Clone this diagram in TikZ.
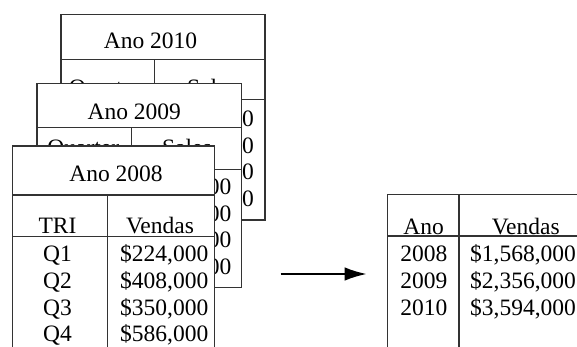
\documentclass[tikz,border=0pt]{standalone}
\usepackage{fontspec}
\setmainfont{Liberation Serif}
\usetikzlibrary{arrows.meta}
\newcommand\cellfont{\fontsize{23.5}{26}\selectfont}
\definecolor{rulec}{HTML}{333333}
\tikzset{
  tbl/.style={draw=rulec, line width=1.3pt, fill=white},
  rule/.style={draw=rulec, line width=1.3pt},
  txt/.style={anchor=base, inner sep=0pt, font=\cellfont},
  txtr/.style={anchor=base east, inner sep=0pt, font=\cellfont},
  txtl/.style={anchor=base west, inner sep=0pt, font=\cellfont},
  flow/.style={draw=black, line width=2pt, -{Latex[length=22pt,width=13.5pt]}}
}
\begin{document}
\begin{tikzpicture}[x=1pt,y=-1pt]
\useasboundingbox (0,0) rectangle (577,347);
\clip (0,0) rectangle (577,347);
\fill[white] (0,0) rectangle (577,347);

% quarterly sheet, 2010 (back)
\filldraw[tbl] (61,14.5) rectangle (265,220);
\draw[rule] (61,59.5) -- (265,59.5);
\draw[rule] (154.3,59.5) -- (154.3,220);
\draw[rule] (61,99.3) -- (265,99.3);
\node[txt] (y10) at (150.5,48.3) {Ano 2010};
\node[txt] (y10q) at (104.7,96) {Quarter};
\node[txt] (y10s) at (212,96) {Sales};
\node[txt] (y10q1) at (107.7,127) {Q1};
\node[txt] (y10q2) at (107.7,153.5) {Q2};
\node[txt] (y10q3) at (107.7,180) {Q3};
\node[txt] (y10q4) at (107.7,206.5) {Q4};
\node[txtr] (y10v1) at (254,127) {\$820,000};
\node[txtr] (y10v2) at (254,153.5) {\$910,000};
\node[txtr] (y10v3) at (254,180) {\$872,000};
\node[txtr] (y10v4) at (254,206.5) {\$992,000};

% quarterly sheet, 2009 (middle)
\filldraw[tbl] (37,83.3) rectangle (241.3,287.3);
\draw[rule] (37,127.7) -- (241.3,127.7);
\draw[rule] (131.3,127.7) -- (131.3,287.3);
\draw[rule] (37,169.3) -- (241.3,169.3);
\node[txt] (y09) at (134.3,119.3) {Ano 2009};
\node[txt] (y09q) at (83.3,155.5) {Quarter};
\node[txt] (y09s) at (187,155.5) {Sales};
\node[txt] (y09q1) at (84,194.5) {Q1};
\node[txt] (y09q2) at (84,221) {Q2};
\node[txt] (y09q3) at (84,247.5) {Q3};
\node[txt] (y09q4) at (84,274) {Q4};
\node[txtr] (y09v1) at (231.5,194.5) {\$512,000};
\node[txtr] (y09v2) at (231.5,221) {\$604,000};
\node[txtr] (y09v3) at (231.5,247.5) {\$580,000};
\node[txtr] (y09v4) at (231.5,274) {\$660,000};

% quarterly sheet, 2008 (front)
\filldraw[tbl] (12.7,146) rectangle (214.3,362);
\draw[rule] (12.7,195) -- (214.3,195);
\draw[rule] (107.7,195) -- (107.7,362);
\draw[rule] (12.7,236.7) -- (214.3,236.7);
\node[txt] (y08) at (116,181.7) {Ano 2008};
\node[txt] (y08q) at (57.5,233.3) {TRI};
\node[txt] (y08s) at (160,233.3) {Vendas};
\node[txt] (y08q1) at (57.5,261.7) {Q1};
\node[txt] (y08q2) at (57.5,288.3) {Q2};
\node[txt] (y08q3) at (57.5,315) {Q3};
\node[txt] (y08q4) at (57.5,341.7) {Q4};
\node[txt] (y08v1) at (164.2,261.7) {\$224,000};
\node[txt] (y08v2) at (164.2,288.3) {\$408,000};
\node[txt] (y08v3) at (164.2,315) {\$350,000};
\node[txt] (y08v4) at (164.2,341.7) {\$586,000};

% consolidation arrow
\coordinate (arrow-from) at (280.7,274);
\coordinate (arrow-to) at (366.7,274);
\draw[flow] (arrow-from) -- (arrow-to);

% yearly summary sheet
\filldraw[tbl] (387.3,194.3) rectangle (600,362);
\draw[rule] (459,194.3) -- (459,362);
\draw[rule] (387.3,236) -- (600,236);
\node[txt] (sa) at (423.7,234) {Ano};
\node[txt] (sv) at (525.7,234) {Vendas};
\node[txt] (s08) at (423.8,261.7) {2008};
\node[txt] (s09) at (423.8,288.3) {2009};
\node[txt] (s10) at (423.8,315) {2010};
\node[txtl] (t08) at (470,261.7) {\$1,568,000};
\node[txtl] (t09) at (470,288.3) {\$2,356,000};
\node[txtl] (t10) at (470,315) {\$3,594,000};
\end{tikzpicture}
\end{document}
